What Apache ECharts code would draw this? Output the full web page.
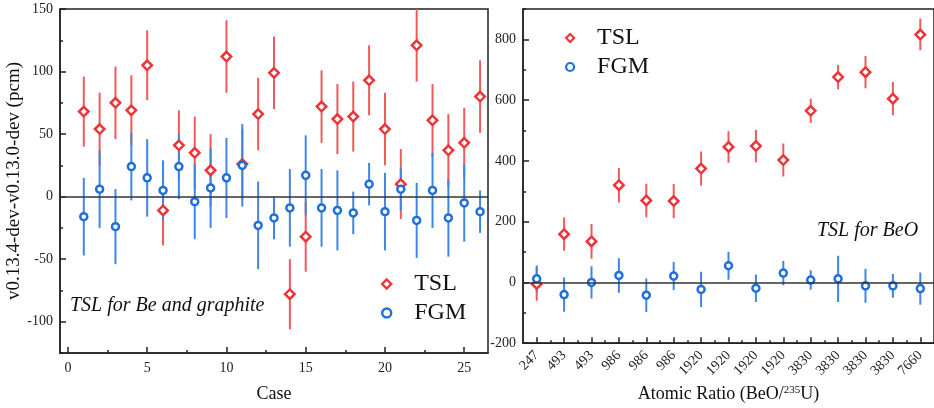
<!DOCTYPE html>
<html>
<head>
<meta charset="utf-8">
<script src="https://cdn.jsdelivr.net/npm/echarts@6/dist/echarts.min.js"></script>
<style>html,body{margin:0;padding:0;background:#fff}#c{width:934px;height:408px}</style>
</head>
<body>
<div id="c"></div>
<script>
// ---- Left panel: Be and graphite cases ----
const cases = [1,2,3,4,5,6,7,8,9,10,11,12,13,14,15,16,17,18,19,20,21,22,23,24,25,26];
const tslBe = [68,54,75,69,105,-11,41,35,21,112,26,66,99,-78,-32,72,62,64,93,54,10,121,61,37,43,80];
const tslBeErr = [28,29,29,28,28,28,28,29,29,29,28,29,29,28,28,29,28,28,28,29,28,29,29,29,28,29];
const fgmBe = [-16,6,-24,24,15,5,24,-4,7,15,25,-23,-17,-9,17,-9,-11,-13,10,-12,6,-19,5,-17,-5,-12];
const fgmBeErr = [31,31,30,27,31,24,26,30,32,32,33,35,17,31,32,31,32,17,17,31,17,30,30,31,31,17];
const caseTicks = [0,5,10,15,20,25];
const caseMinorTicks = [2.5,7.5,12.5,17.5,22.5];
const leftYTicks = [-100,-50,0,50,100,150];
const leftYMinor = [-125,-75,-25,25,75,125];

// ---- Right panel: BeO cases ----
const ratioLabels = ['247','493','493','986','986','986','1920','1920','1920','1920','3830','3830','3830','3830','7660'];
const tslBeO = [-5,159,135,320,270,268,375,446,449,403,565,676,692,605,816];
const tslBeOErr = [55,55,57,57,55,56,56,52,53,54,40,40,53,55,52];
const fgmBeO = [12,-40,0,23,-42,21,-23,55,-19,31,8,12,-11,-11,-20];
const fgmBeOErr = [44,56,53,57,55,46,58,46,45,40,32,76,56,39,53];
const rightYTicks = [-200,0,200,400,600,800];
const rightYMinor = [-100,100,300,500,700,900];

const RED = '#ec3439', RED_BAR = '#f05a5d';
const BLUE = '#1f6fdc', BLUE_BAR = '#3f86e4';
const FONT = 'Liberation Serif';

const ratioPos = ratioLabels.map((_, i) => i + 1);
const ratioMinor = ratioLabels.slice(0, -1).map((_, i) => i + 1.5);

function errData(xs, ys, es) { return ys.map((y, i) => [xs[i], y, es[i]]); }
function ptData(xs, ys) { return ys.map((y, i) => [xs[i], y]); }
function errSeries(name, xi, yi, data, color, extra) {
  return Object.assign({
    type: 'custom', name: name, xAxisIndex: xi, yAxisIndex: yi, clip: true, silent: true,
    encode: { x: 0, y: 1 },
    renderItem: function (params, api) {
      const x = api.value(0), y = api.value(1), e = api.value(2);
      const p1 = api.coord([x, y + e]), p2 = api.coord([x, y - e]);
      return { type: 'line', shape: { x1: p1[0], y1: p1[1], x2: p2[0], y2: p2[1] },
        style: { stroke: color, lineWidth: 2 } };
    },
    data: data
  }, extra || {});
}
function ptSeries(name, xi, yi, data, color, sym, size) {
  return { type: 'scatter', name: name, xAxisIndex: xi, yAxisIndex: yi, symbol: sym, symbolSize: size,
    itemStyle: { color: '#fff', borderColor: color, borderWidth: 2.5, opacity: 1 }, data: data, silent: true };
}

const tickLabel = { fontFamily: FONT, fontSize: 14, color: '#222' };
const axLine = { show: true, onZero: false, lineStyle: { color: '#222', width: 1.5 } };
const noLine = { show: false, onZero: false };
const zeroLine = { silent: true, symbol: 'none', label: { show: false },
  lineStyle: { color: '#333', width: 1.5, type: 'solid' }, data: [{ yAxis: 0 }] };

const chart = echarts.init(document.getElementById('c'));
chart.setOption({
  animation: false,
  backgroundColor: '#fff',
  grid: [
    { left: 60, top: 9, right: 446, bottom: 55, show: true, borderColor: '#222', borderWidth: 1.5 },
    { left: 523, top: 9, right: -4, bottom: 64, show: true, borderColor: '#222', borderWidth: 1.5 }
  ],
  xAxis: [
    { type: 'value', gridIndex: 0, min: -0.5, max: 26.5, axisLine: axLine,
      axisTick: { show: true, inside: true, length: 6, customValues: caseTicks, lineStyle: { color: '#222', width: 1.5 } },
      axisLabel: Object.assign({ customValues: caseTicks, margin: 8 }, tickLabel),
      splitLine: { show: false },
      name: 'Case', nameLocation: 'middle', nameGap: 32,
      nameTextStyle: { fontFamily: FONT, fontSize: 18, color: '#111' } },
    { type: 'value', gridIndex: 0, position: 'bottom', min: -0.5, max: 26.5, axisLine: noLine,
      axisTick: { show: true, inside: true, length: 3, customValues: caseMinorTicks, lineStyle: { color: '#222', width: 1.5 } },
      axisLabel: { show: false }, splitLine: { show: false } },
    { type: 'value', gridIndex: 1, min: 0.5, max: 15.5, axisLine: axLine,
      axisTick: { show: true, inside: true, length: 6, customValues: ratioPos, lineStyle: { color: '#222', width: 1.5 } },
      axisLabel: Object.assign({ customValues: ratioPos, rotate: 45, margin: 10,
        formatter: function (v) { return ratioLabels[Math.round(v) - 1] || ''; } }, tickLabel),
      splitLine: { show: false },
      name: 'Atomic Ratio (BeO/{sup|235}U)', nameLocation: 'middle', nameGap: 38,
      nameTextStyle: { fontFamily: FONT, fontSize: 18, color: '#111',
        rich: { sup: { fontFamily: FONT, fontSize: 11, color: '#111', verticalAlign: 'top', lineHeight: 14, padding: [0, 0, 6, 0] } } } },
    { type: 'value', gridIndex: 1, position: 'bottom', min: 0.5, max: 15.5, axisLine: noLine,
      axisTick: { show: true, inside: true, length: 3, customValues: ratioMinor, lineStyle: { color: '#222', width: 1.5 } },
      axisLabel: { show: false }, splitLine: { show: false } }
  ],
  yAxis: [
    { type: 'value', gridIndex: 0, min: -125, max: 150, axisLine: axLine,
      axisTick: { show: true, inside: true, length: 6, customValues: leftYTicks, lineStyle: { color: '#222', width: 1.5 } },
      axisLabel: Object.assign({ customValues: leftYTicks, margin: 7 }, tickLabel),
      splitLine: { show: false },
      name: 'v0.13.4-dev-v0.13.0-dev (pcm)', nameLocation: 'middle', nameGap: 36,
      nameTextStyle: { fontFamily: FONT, fontSize: 19, color: '#111' } },
    { type: 'value', gridIndex: 0, position: 'left', min: -125, max: 150, axisLine: noLine,
      axisTick: { show: true, inside: true, length: 3, customValues: leftYMinor, lineStyle: { color: '#222', width: 1.5 } },
      axisLabel: { show: false }, splitLine: { show: false } },
    { type: 'value', gridIndex: 1, min: -200, max: 900, axisLine: axLine,
      axisTick: { show: true, inside: true, length: 6, customValues: rightYTicks, lineStyle: { color: '#222', width: 1.5 } },
      axisLabel: Object.assign({ customValues: rightYTicks, margin: 7 }, tickLabel),
      splitLine: { show: false } },
    { type: 'value', gridIndex: 1, position: 'left', min: -200, max: 900, axisLine: noLine,
      axisTick: { show: true, inside: true, length: 3, customValues: rightYMinor, lineStyle: { color: '#222', width: 1.5 } },
      axisLabel: { show: false }, splitLine: { show: false } }
  ],
  legend: [
    { data: ['TSL', 'FGM'], orient: 'vertical', left: 376, top: 267, itemWidth: 9, itemHeight: 9, itemGap: 5,
      itemStyle: { borderWidth: 2.4 },
      textStyle: { fontFamily: FONT, fontSize: 24, color: '#111', padding: [0, 0, 0, 18] }, selectedMode: false },
    { data: ['TSL', 'FGM'], orient: 'vertical', left: 560, top: 21, itemWidth: 8, itemHeight: 8, itemGap: 5,
      itemStyle: { borderWidth: 2.2 },
      textStyle: { fontFamily: FONT, fontSize: 24, color: '#111', padding: [0, 0, 0, 18] }, selectedMode: false }
  ],
  graphic: [
    { type: 'text', left: 70, top: 296, style: { text: 'TSL for Be and graphite', font: 'italic 20px "Liberation Serif"', fill: '#111' } },
    { type: 'text', left: 817, top: 221, style: { text: 'TSL for BeO', font: 'italic 20px "Liberation Serif"', fill: '#111' } }
  ],
  series: [
    errSeries('TSL error', 0, 0, errData(cases, tslBe, tslBeErr), RED_BAR, { markLine: zeroLine }),
    ptSeries('TSL', 0, 0, ptData(cases, tslBe), RED, 'diamond', 9.5),
    errSeries('FGM error', 0, 0, errData(cases, fgmBe, fgmBeErr), BLUE_BAR),
    ptSeries('FGM', 0, 0, ptData(cases, fgmBe), BLUE, 'circle', 7),
    errSeries('TSL error BeO', 2, 2, errData(ratioPos, tslBeO, tslBeOErr), RED_BAR, { markLine: zeroLine }),
    ptSeries('TSL', 2, 2, ptData(ratioPos, tslBeO), RED, 'diamond', 9.5),
    errSeries('FGM error BeO', 2, 2, errData(ratioPos, fgmBeO, fgmBeOErr), BLUE_BAR),
    ptSeries('FGM', 2, 2, ptData(ratioPos, fgmBeO), BLUE, 'circle', 7)
  ]
});
</script>
</body>
</html>
